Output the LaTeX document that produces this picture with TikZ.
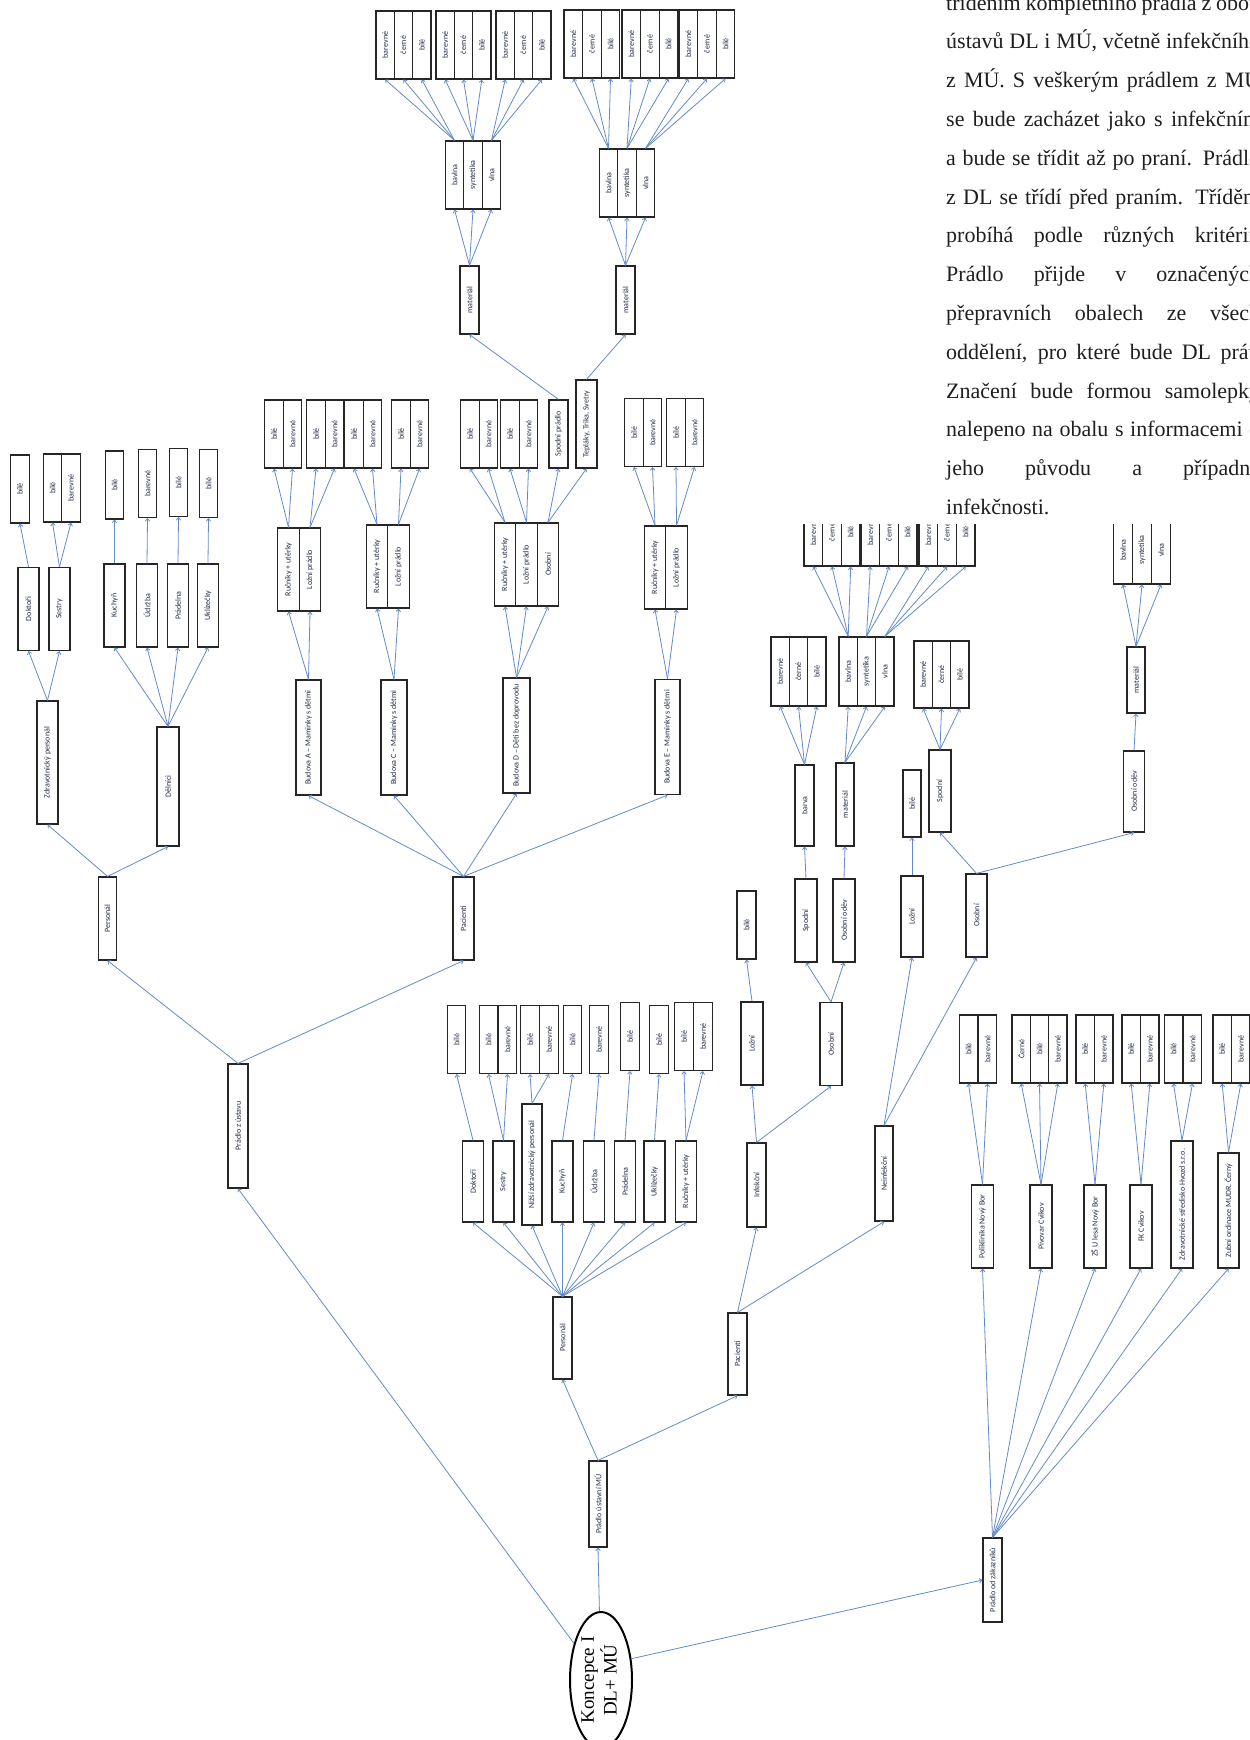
\documentclass[tikz,border=0pt]{standalone}
\usepackage{fontspec}
\setmainfont{Liberation Serif}
\newfontfamily\cellfont{Carlito}
\usetikzlibrary{arrows.meta,shapes.geometric}
\definecolor{linkblue}{RGB}{98,138,200}
\definecolor{cellink}{RGB}{35,45,70}
\newcommand{\vlabel}[1]{\rotatebox{90}{#1}}

\tikzset{
  cell/.style={draw=black!85, line width=1.2pt, fill=white, inner sep=0pt,
    text=cellink, font=\cellfont\fontsize{8}{9.5}\selectfont},
  leaf/.style={cell, minimum width=18.5pt, minimum height=68pt},
  twig/.style={cell, minimum width=21pt, minimum height=83pt},
  link/.style={draw=linkblue, line width=0.8pt, -{Straight Barb[length=2.5pt,width=4.5pt]}}
}

\begin{document}
\begin{tikzpicture}[x=1pt, y=-1pt]
    \useasboundingbox (0,0) rectangle (1250,1740);
    \clip (0,0) rectangle (1250,1740);

    % text block, top right
    \node[anchor=base west, inner sep=0pt, text=black!88] (note) at (946,10) {\parbox[t]{314pt}{\fontsize{22}{38.8}\selectfont
        \makebox[\linewidth][s]{tříděním kompletního prádla z obou}\\
        \makebox[\linewidth][s]{ústavů DL i MÚ, včetně infekčního}\\
        \makebox[\linewidth][s]{z MÚ. S veškerým prádlem z MÚ}\\
        \makebox[\linewidth][s]{se bude zacházet jako s infekčním}\\
        \makebox[\linewidth][s]{a bude se třídit až po praní. Prádlo}\\
        \makebox[\linewidth][s]{z DL se třídí před praním. Třídění}\\
        \makebox[\linewidth][s]{probíhá podle různých kritérií.}\\
        \makebox[\linewidth][s]{Prádlo přijde v označených}\\
        \makebox[\linewidth][s]{přepravních obalech ze všech}\\
        \makebox[\linewidth][s]{oddělení, pro které bude DL prát.}\\
        \makebox[\linewidth][s]{Značení bude formou samolepky}\\
        \makebox[\linewidth][s]{nalepeno na obalu s informacemi o}\\
        \makebox[\linewidth][s]{jeho původu a případné}\\
        infekčnosti.}};

    % root
    \node[ellipse, draw, line width=2pt, minimum width=62pt, minimum height=136pt, inner sep=0pt] (konc) at (601,1680)
        {\rotatebox{90}{\fontsize{19}{21}\selectfont\begin{tabular}{@{}c@{}}Koncepce I\\DL+ MÚ\end{tabular}}};
    \node[cell, minimum width=20pt, minimum height=124pt] (zust) at (238,1126) {\vlabel{Prádlo z ústavu}};
    \node[cell, minimum width=18pt, minimum height=86pt] (ustMU) at (598,1504) {\vlabel{Prádlo ústavní MÚ}};
    \node[cell, minimum width=19pt, minimum height=84pt] (zak) at (992.5,1580) {\vlabel{Prádlo od zákazníků}};
    \draw[link] (konc) -- (zust.south);
    \draw[link] (konc) -- (ustMU.south);
    \draw[link] (konc.35) -- (zak.west);

    % Prádlo z ústavu: personál
    \node[twig, minimum width=18pt] (persA) at (107.5,918.5) {\vlabel{Personál}};
    \node[cell, minimum width=21pt, minimum height=123pt] (zdrA) at (47.5,762.5) {\vlabel{Zdravotnický personál}};
    \node[cell, minimum width=22pt, minimum height=119pt] (delA) at (168,786.5) {\vlabel{Dělníci}};
    \node[twig] (dokA) at (28.5,609) {\vlabel{Doktoři}};
    \node[twig] (sesA) at (59.5,609) {\vlabel{Sestry}};
    \node[twig] (kucA) at (114.5,605.5) {\vlabel{Kuchyň}};
    \node[twig] (udrA) at (147,605.5) {\vlabel{Údržba}};
    \node[twig] (praA) at (178,605.5) {\vlabel{Prádelna}};
    \node[twig] (uklA) at (208,605.5) {\vlabel{Uklízečky}};
    \node[leaf] (dokA1) at (20,489) {\vlabel{bílé}};
    \node[leaf] (sesA1) at (52.5,488) {\vlabel{bílé}};
    \node[leaf] (sesA2) at (71,488) {\vlabel{barevné}};
    \node[leaf] (kucA1) at (114.5,485) {\vlabel{bílé}};
    \node[leaf] (udrA1) at (147.5,483.5) {\vlabel{barevné}};
    \node[leaf] (praA1) at (178.5,482.5) {\vlabel{bílé}};
    \node[leaf] (uklA1) at (208.5,483.5) {\vlabel{bílé}};
    \draw[link] (zust.north) -- (persA.south);
    \draw[link] (persA.north) -- (zdrA.south);
    \draw[link] (persA.north) -- (delA.south);
    \draw[link] (zdrA.north) -- (dokA.south);
    \draw[link] (zdrA.north) -- (sesA.south);
    \draw[link] (dokA.north) -- (dokA1.south);
    \draw[link] (sesA.north) -- (sesA1.south);
    \draw[link] (sesA.north) -- (sesA2.south);
    \foreach \n in {kucA,udrA,praA,uklA} {
        \draw[link] (delA.north) -- (\n.south);
        \draw[link] (\n.north) -- (\n1.south);
    }

    % Prádlo z ústavu: pacienti, budovy
    \node[twig] (pacA) at (463.5,918.5) {\vlabel{Pacienti}};
    \node[cell, minimum width=25pt, minimum height=115pt] (budA) at (308.5,737.5) {\vlabel{Budova A – Maminky s dětmi}};
    \node[cell, minimum width=26pt, minimum height=115pt] (budC) at (394,737.5) {\vlabel{Budova C – Maminky s dětmi}};
    \node[cell, minimum width=27pt, minimum height=115pt] (budD) at (516.5,735.5) {\vlabel{Budova D – Děti bez doprovodu}};
    \node[cell, minimum width=25pt, minimum height=115pt] (budE) at (667.5,737) {\vlabel{Budova E – Maminky s dětmi}};
    \draw[link] (zust.north) -- (pacA.south);
    \foreach \n in {budA,budC,budD,budE}
        \draw[link] (pacA.north) -- (\n.south);

    \node[twig, minimum width=21.5pt] (budAr) at (288.5,569.5) {\vlabel{Ručníky + utěrky}};
    \node[twig, minimum width=21.5pt] (budAl) at (310,569.5) {\vlabel{Ložní prádlo}};
    \node[twig, minimum width=21.5pt] (budCr) at (377,566.5) {\vlabel{Ručníky + utěrky}};
    \node[twig, minimum width=21.5pt] (budCl) at (398.5,566.5) {\vlabel{Ložní prádlo}};
    \node[twig, minimum width=21.5pt] (budDr) at (505,564.5) {\vlabel{Ručníky + utěrky}};
    \node[twig, minimum width=21.5pt] (budDl) at (526.5,564.5) {\vlabel{Ložní prádlo}};
    \node[twig, minimum width=21.5pt] (budDo) at (548,564.5) {\vlabel{Osobní}};
    \node[twig, minimum width=21.5pt] (budEr) at (655,567.5) {\vlabel{Ručníky + utěrky}};
    \node[twig, minimum width=21.5pt] (budEl) at (676.5,567.5) {\vlabel{Ložní prádlo}};
    \foreach \b in {A,C,E} {
        \draw[link] (bud\b.north) -- (bud\b r.south);
        \draw[link] (bud\b.north) -- (bud\b l.south);
    }
    \foreach \n in {budDr,budDl,budDo}
        \draw[link] (budD.north) -- (\n.south);

    \foreach \p/\x/\y in {budAr/274/434, budAl/316/434, budCr/354/434, budCl/401/434,
                          budDr/470/434, budDl/510/434, budEr/634/432.5, budEl/676/432.5} {
        \node[leaf] (\p1) at (\x,\y) {\vlabel{bílé}};
        \node[leaf] (\p2) at (\x+18.5,\y) {\vlabel{barevné}};
        \draw[link] (\p.north) -- (\p1.south);
        \draw[link] (\p.north) -- (\p2.south);
    }
    \node[leaf, minimum width=19pt] (spoD) at (558.5,434) {\vlabel{Spodní prádlo}};
    \node[cell, minimum width=21pt, minimum height=88pt] (tepD) at (586.5,424) {\vlabel{Tepláky, Trika, Svetry}};
    \draw[link] (budDo.north) -- (spoD.south);
    \draw[link] (budDo.north) -- (tepD.south);

    % materiál nad budovou D
    \node[leaf, minimum width=19pt] (matA) at (469.5,300) {\vlabel{materiál}};
    \node[leaf, minimum width=19pt] (matB) at (625.5,300) {\vlabel{materiál}};
    \draw[link] (spoD.north) -- (matA.south);
    \draw[link] (tepD.north) -- (matB.south);
    \foreach \i/\x/\lab in {1/454.5/bavlna, 2/473/syntetika, 3/491.5/vlna}
        \node[leaf] (fabA\i) at (\x,175) {\vlabel{\lab}};
    \foreach \i/\x/\lab in {1/608.5/bavlna, 2/627/syntetika, 3/645.5/vlna}
        \node[leaf] (fabB\i) at (\x,183) {\vlabel{\lab}};
    \foreach \i/\x in {1/385.2, 2/445.2, 3/505.2}
        \foreach \j/\lab in {0/barevné, 1/černé, 2/bílé}
            \node[leaf, minimum width=18.3pt] (colA\i\j) at ({\x+18.3*\j},45) {\vlabel{\lab}};
    \foreach \i/\x in {1/573.3, 2/631.3, 3/688.3}
        \foreach \j/\lab in {0/barevné, 1/černé, 2/bílé}
            \node[leaf, minimum width=18.6pt] (colB\i\j) at ({\x+18.6*\j},44) {\vlabel{\lab}};
    \foreach \i in {1,2,3} {
        \draw[link] (matA.north) -- (fabA\i.south);
        \draw[link] (matB.north) -- (fabB\i.south);
        \foreach \j in {0,1,2} {
            \draw[link] (fabA\i.north) -- (colA\i\j.south);
            \draw[link] (fabB\i.north) -- (colB\i\j.south);
        }
    }

    % Prádlo ústavní MÚ: personál
    \node[twig, minimum width=19pt, minimum height=82pt] (persB) at (562.5,1338) {\vlabel{Personál}};
    \draw[link] (ustMU.north) -- (persB.south);
    \foreach \n/\x/\lab in {dokB/473/Doktoři, sesB/503.5/Sestry, kucB/562.5/Kuchyň, udrB/594/Údržba,
                            praB/625/Prádelna, uklB/654.5/Uklízečky, rucB/686/Ručníky + utěrky}
        \node[twig, minimum height=81pt] (\n) at (\x,1181.5) {\vlabel{\lab}};
    \node[cell, minimum width=20pt, minimum height=121pt] (nizB) at (532,1164.5) {\vlabel{Nižší zdravotnický personál}};
    \foreach \n/\x/\y/\lab in {dokB1/456.5/1039.5/bílé, sesB1/488.5/1039.5/bílé, sesB2/507.5/1039.5/barevné,
                               nizB1/530/1039.5/bílé, nizB2/549/1039.5/barevné, kucB1/572.5/1039.5/bílé,
                               udrB1/599/1039.5/barevné, praB1/630/1036.5/bílé, uklB1/659/1039.5/bílé,
                               rucB1/684/1036.5/bílé, rucB2/703/1036.5/barevné}
        \node[leaf] (\n) at (\x,\y) {\vlabel{\lab}};
    \foreach \n in {dokB,sesB,nizB,kucB,udrB,praB,uklB,rucB} {
        \draw[link] (persB.north) -- (\n.south);
        \draw[link] (\n.north) -- (\n1.south);
    }
    \foreach \n in {sesB,nizB,rucB}
        \draw[link] (\n.north) -- (\n2.south);

    % Prádlo ústavní MÚ: pacienti
    \node[twig, minimum width=19pt, minimum height=82pt] (pacB) at (737.5,1354) {\vlabel{Pacienti}};
    \node[twig, minimum width=19pt, minimum height=84pt] (infB) at (756.5,1185) {\vlabel{Infekční}};
    \node[cell, minimum width=18pt, minimum height=95pt] (ninB) at (884,1173.5) {\vlabel{Neinfekční}};
    \draw[link] (ustMU.north) -- (pacB.south);
    \draw[link] (pacB.north) -- (infB.south);
    \draw[link] (pacB.north) -- (ninB.south);

    % infekční
    \node[twig, minimum width=22pt] (lozI) at (752,1043.5) {\vlabel{Ložní}};
    \node[leaf, minimum width=19pt] (lozI1) at (746.5,925) {\vlabel{bílé}};
    \node[twig, minimum width=22pt] (osoI) at (831,1044) {\vlabel{Osobní}};
    \node[twig, minimum width=22pt] (spoI) at (806,920.5) {\vlabel{Spodní}};
    \node[twig, minimum width=22pt] (odvI) at (844,920.5) {\vlabel{Osobní oděv}};
    \node[twig, minimum width=19pt, minimum height=81pt] (barI) at (804.5,805.5) {\vlabel{barva}};
    \node[twig, minimum width=18pt] (matI) at (845,804.5) {\vlabel{materiál}};
    \foreach \i/\x/\lab in {1/780.2/barevné, 2/798.5/černé, 3/816.8/bílé}
        \node[leaf, minimum width=18.3pt, minimum height=69pt] (barI\i) at (\x,671.5) {\vlabel{\lab}};
    \foreach \i/\x/\lab in {1/848.2/bavlna, 2/866.5/syntetika, 3/884.8/vlna}
        \node[leaf, minimum width=18.3pt, minimum height=69pt] (fabI\i) at (\x,671.5) {\vlabel{\lab}};
    \draw[link] (infB.north) -- (lozI.south);
    \draw[link] (infB.north) -- (osoI.south);
    \draw[link] (lozI.north) -- (lozI1.south);
    \draw[link] (osoI.north) -- (spoI.south);
    \draw[link] (osoI.north) -- (odvI.south);
    \draw[link] (spoI.north) -- (barI.south);
    \draw[link] (odvI.north) -- (matI.south);

    % neinfekční
    \node[twig, minimum width=22pt, minimum height=81pt] (lozN) at (912,916.5) {\vlabel{Ložní}};
    \node[twig] (osoN) at (976.5,915.5) {\vlabel{Osobní}};
    \node[leaf, minimum width=18pt, minimum height=67pt] (lozN1) at (912,803.5) {\vlabel{bílé}};
    \node[twig, minimum width=22pt, minimum height=82pt] (spoN) at (940,791) {\vlabel{Spodní}};
    \node[twig, minimum height=81pt] (odvN) at (1134,791.5) {\vlabel{Osobní oděv}};
    \foreach \i/\x/\lab in {1/923.2/barevné, 2/941.5/černé, 3/959.8/bílé}
        \node[leaf, minimum width=18.3pt, minimum height=67pt] (spoN\i) at (\x,674.5) {\vlabel{\lab}};
    \node[leaf, minimum width=18pt, minimum height=66pt] (matN) at (1136,680) {\vlabel{materiál}};
    \draw[link] (ninB.north) -- (lozN.south);
    \draw[link] (ninB.north) -- (osoN.south);
    \draw[link] (lozN.north) -- (lozN1.south);
    \draw[link] (osoN.north) -- (spoN.south);
    \draw[link] (osoN.north) -- (odvN.south);
    \draw[link] (odvN.north) -- (matN.south);

    % horní řada pod textem (oříznutá)
    \begin{scope}
        \clip (760,524) rectangle (1250,700);
        \foreach \i/\x in {1/813.3, 2/870.3, 3/928.3}
            \foreach \j/\lab in {0/barevné, 1/černé, 2/bílé}
                \node[leaf, minimum width=18.7pt] (colI\i\j) at ({\x+18.7*\j},532) {\vlabel{\lab}};
        \foreach \i/\x/\lab in {1/1123/bavlna, 2/1142/syntetika, 3/1161/vlna}
            \node[leaf, minimum width=19pt] (fabN\i) at (\x,550) {\vlabel{\lab}};
    \end{scope}
    \foreach \i in {1,2,3} {
        \draw[link] (barI.north) -- (barI\i.south);
        \draw[link] (matI.north) -- (fabI\i.south);
        \draw[link] (spoN.north) -- (spoN\i.south);
        \draw[link] (matN.north) -- (fabN\i.south);
        \foreach \j in {0,1,2}
            \draw[link] (fabI\i.north) -- (colI\i\j.south);
    }

    % Prádlo od zákazníků
    \foreach \n/\x/\lab in {pol/982.5/Poliklinika Nový Bor, piv/1041/Pivovar Cvikov,
                            zsl/1095/ZŠ U lesa Nový Bor, fkc/1141/FK Cvikov}
        \node[twig, minimum width=22pt] (\n) at (\x,1226.5) {\vlabel{\lab}};
    \node[cell, minimum width=22pt, minimum height=127pt] (hvo) at (1182,1204.5) {\vlabel{Zdravotnické středisko Hvozd s.r.o.}};
    \node[cell, minimum width=21pt, minimum height=115pt] (zub) at (1228.5,1210.5) {\vlabel{Zubní ordinace MUDR. Černý}};
    \foreach \n/\x/\lab in {pol1/968.5/bílé, pol2/987.5/barevné, piv1/1021.2/Černé, piv2/1039.5/bílé,
                            piv3/1057.8/barevné, zsl1/1085.2/bílé, zsl2/1103.8/barevné, fkc1/1131.2/bílé,
                            fkc2/1149.8/barevné, hvo1/1173.5/bílé, hvo2/1192.5/barevné,
                            zub1/1222.2/bílé, zub2/1240.8/barevné}
        \node[leaf] (\n) at (\x,1049) {\vlabel{\lab}};
    \foreach \n in {pol,piv,zsl,fkc,hvo,zub} {
        \draw[link] (zak.north) -- (\n.south);
        \draw[link] (\n.north) -- (\n1.south);
        \draw[link] (\n.north) -- (\n2.south);
    }
    \draw[link] (piv.north) -- (piv3.south);
\end{tikzpicture}
\end{document}
